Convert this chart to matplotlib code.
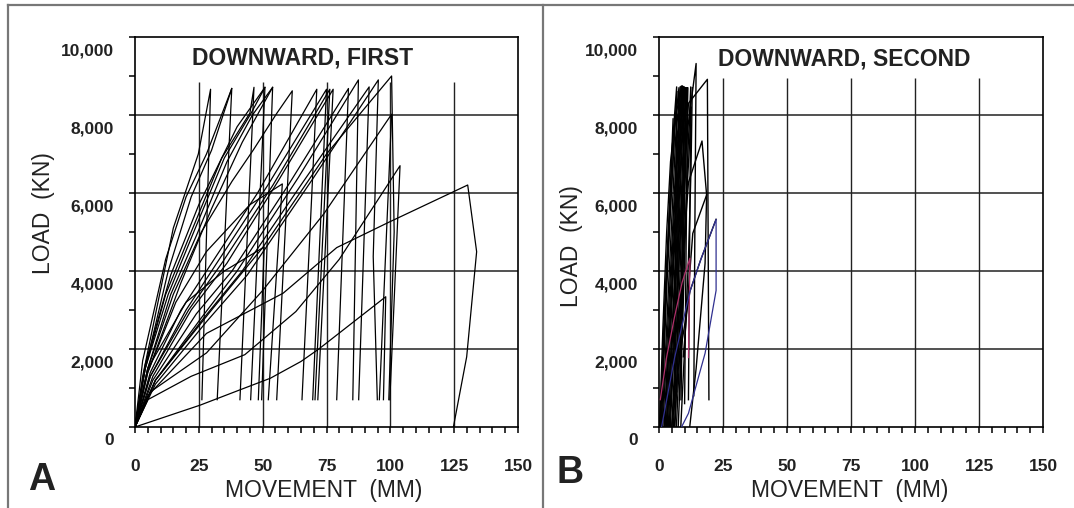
import matplotlib
matplotlib.use("Agg")
import matplotlib.pyplot as plt
from matplotlib.lines import Line2D
from matplotlib.transforms import ScaledTranslation
from matplotlib.ticker import MultipleLocator

plt.rcParams['font.family'] = ['Liberation Sans', 'DejaVu Sans']

# load-movement traces, panel A (first downward test), one list per trace
first_x = [
    [0, 3, 15, 24.8, 29.6, 26.2],
    [0, 4, 13, 22, 30, 37.9, 32.2],
    [0, 4, 12, 22, 34, 45, 46.6, 41.1],
    [0, 4, 13, 23, 35, 45.5, 50.9, 45.3],
    [0, 5, 14, 24, 36, 46, 53.9, 49.6],
    [0, 5, 16, 28, 45, 57.7, 52.2],
    [0, 5, 15, 26, 38, 46.3, 55.5, 61.6, 55.5],
    [0, 3, 12, 20, 28, 37.9],
    [0, 4, 14, 25, 40, 50.9],
    [0, 5, 18, 30, 42, 53.9],
    [0, 6, 18, 30, 48, 71.2, 65.4],
    [0, 6, 20, 32, 52, 75.0, 69.6],
    [0, 6, 21, 34, 54, 76.3, 70.5],
    [0, 7, 22, 36, 56, 77.6, 71.6],
    [0, 7, 24, 38, 60, 83.6, 79.0],
    [0, 8, 26, 40, 64, 87.5, 85.3],
    [0, 8, 27, 42, 66, 91.7, 87.6],
    [0, 8, 28, 44, 70, 95.3, 93.3, 94.9],
    [0, 6, 28, 50, 74, 100.5, 95.7],
    [0, 5, 22, 43, 63, 80, 103.8, 99.8],
    [0, 5, 28, 58, 79, 99.4, 130.3, 133.8, 129.9, 124.7],
    [0, 25.5, 41, 53, 65, 72, 98.2, 97.3],
    [0, 5, 20, 35, 50.6, 48.3],
    [0, 8, 30, 50, 75, 100.5, 101.5, 99.4],
]
first_y = [
    [0, 1300, 5100, 7000, 8660, 700],
    [0, 1500, 4000, 5900, 7100, 8680, 700],
    [0, 1500, 3400, 5000, 6900, 8050, 8710, 700],
    [0, 1500, 3400, 5000, 6900, 8050, 8710, 700],
    [0, 1500, 3400, 4900, 6800, 8000, 8710, 700],
    [0, 1400, 3200, 4500, 5700, 6233, 700],
    [0, 1500, 3400, 5000, 6300, 7100, 8040, 8620, 700],
    [0, 1700, 4300, 5900, 7000, 8680],
    [0, 1600, 3900, 5700, 7700, 8710],
    [0, 1400, 3700, 5600, 7300, 8710],
    [0, 1400, 3000, 4200, 6000, 8660, 700],
    [0, 1300, 3000, 4200, 6200, 8660, 700],
    [0, 1300, 3000, 4200, 6200, 8660, 700],
    [0, 1300, 3000, 4200, 6300, 8660, 700],
    [0, 1200, 2900, 4000, 6200, 8680, 700],
    [0, 1200, 2800, 4000, 6400, 8900, 700],
    [0, 1200, 2800, 4000, 6300, 8720, 700],
    [0, 1100, 2700, 3900, 6400, 8900, 4370, 700],
    [0, 900, 1900, 3500, 5470, 8020, 700],
    [0, 700, 1300, 1854, 2960, 4300, 6700, 700],
    [0, 800, 2400, 3430, 4600, 5250, 6205, 4495, 1800, 0],
    [0, 560, 950, 1250, 1680, 2000, 3340, 700],
    [0, 1500, 3200, 4000, 4617, 700],
    [0, 1200, 3000, 4600, 7000, 9000, 5000, 700],
]

# panel B (second downward test)
second_x = [
    [0.3, 2.5, 5.5, 6.9, 6.2],
    [0.8, 3.2, 6.0, 7.8, 7.0],
    [1.2, 3.8, 6.5, 8.3],
    [1.5, 4.2, 7.0, 8.6],
    [2.0, 4.5, 7.2, 8.9],
    [2.4, 5.0, 7.5, 9.1],
    [2.8, 5.3, 7.8, 9.3],
    [3.2, 5.8, 8.0, 9.5],
    [3.6, 6.0, 8.3, 9.7],
    [4.0, 6.4, 8.6, 9.9],
    [4.4, 6.8, 8.8, 10.1],
    [5.0, 7.3, 9.2, 10.4],
    [5.6, 7.8, 9.6, 10.6],
    [6.2, 8.3, 10.0, 10.9],
    [6.8, 8.8, 10.4, 11.2],
    [7.5, 9.4, 11.0, 12.4, 12.0, 11.5],
    [0.2, 1.5, 3.0, 4.5, 6.5, 9.0],
    [9.8, 9.0, 8.0],
    [10.6, 9.5, 8.6],
    [11.2, 10.5, 10.0],
    [3.0, 6.0, 11.3, 14.5, 14.0, 13.6],
    [4.0, 8.0, 11.5, 18.9, 19.5],
    [5.0, 9.0, 11.5, 16.8, 18.6, 13.2, 9.5],
    [22.3, 16.3, 12.1, 8.0, 5.0],
    [12.0, 14.5, 18.0, 18.6],
    [1.0, 2.0, 3.5, 5.5, 7.0],
    [0.5, 1.8, 3.0, 4.6, 5.5],
    [2.2, 4.0, 6.0, 8.2, 9.0],
    [6.0, 8.0, 9.8, 11.8, 12.6],
    [8.5, 10.0, 11.5, 12.5, 13.0],
]
second_y = [
    [0, 3500, 7500, 8720, 800],
    [0, 3800, 7600, 8700, 900],
    [0, 3700, 7400, 8720],
    [0, 3600, 7300, 8730],
    [0, 3500, 7200, 8740],
    [0, 3600, 7300, 8740],
    [0, 3500, 7200, 8730],
    [0, 3400, 7100, 8720],
    [0, 3300, 7000, 8720],
    [0, 3300, 7000, 8710],
    [0, 3200, 6900, 8700],
    [0, 3200, 6800, 8700],
    [0, 3100, 6800, 8690],
    [0, 3000, 6700, 8690],
    [0, 3000, 6700, 8680],
    [0, 3000, 6600, 8720, 5000, 700],
    [0, 2500, 5000, 6800, 8000, 8700],
    [8700, 4000, 700],
    [8700, 4500, 700],
    [8700, 4000, 600],
    [0, 3500, 7700, 9320, 5000, 800],
    [0, 4500, 8300, 8915, 700],
    [0, 4000, 6270, 7333, 5950, 4966, 1800],
    [5325, 4290, 3480, 1780, 0],
    [0, 1500, 4200, 5950],
    [0, 2400, 4600, 6800, 8600],
    [0, 2000, 4000, 6400, 7900],
    [0, 2300, 4800, 7200, 8400],
    [0, 2400, 4700, 7100, 8200],
    [0, 2000, 4300, 6600, 8700],
]
second_pink_x = [0.5, 3.0, 6.0, 9.0, 12.1, 11.5]
second_pink_y = [700, 1800, 2800, 3700, 4330, 1780]
second_blue_x = [1.0, 6.1, 12.1, 16.3, 22.3, 22.3, 18.0, 11.5, 8.8]
second_blue_y = [0, 1780, 3480, 4290, 5325, 3500, 1890, 350, 0]

yticks = [0, 2000, 4000, 6000, 8000, 10000]
ytick_labels = ['0', '2,000', '4,000', '6,000', '8,000', '10,000']
xticks = [0, 25, 50, 75, 100, 125, 150]

fig = plt.figure(figsize=(10.74, 5.08), dpi=100)
axA = fig.add_axes([135 / 1074, 81 / 508, 383 / 1074, 390 / 508])
axB = fig.add_axes([659 / 1074, 81 / 508, 384 / 1074, 390 / 508])


def setup(ax, title, tx, ty, vtop, ylab_pos, xlab_pos, letter_pos, letter):
    ax.set_xlim(0, 150)
    ax.set_ylim(0, 10000)
    for y in yticks[1:-1]:
        ax.axhline(y, color='#222222', lw=1.1, zorder=1)
    ax.vlines(xticks[1:-1], 0, vtop, color='#222222', lw=1.0, zorder=1)
    ax.set_xticks(xticks)
    ax.set_xticklabels([str(v) for v in xticks])
    ax.set_yticks(yticks)
    ax.set_yticklabels(ytick_labels)
    ax.xaxis.set_minor_locator(MultipleLocator(5))
    ax.yaxis.set_minor_locator(MultipleLocator(1000))
    ax.tick_params(which='both', direction='out', length=4, width=1.1, color='black')
    ax.tick_params(axis='x', which='major', pad=19)
    ax.tick_params(axis='y', which='major', pad=11)
    for lab in ax.get_xticklabels() + ax.get_yticklabels():
        lab.set_fontweight('bold')
        lab.set_fontsize(12.5)
        lab.set_color('#222222')
    off = ScaledTranslation(0, -12 / 100, fig.dpi_scale_trans)
    for lab in ax.get_yticklabels():
        lab.set_transform(lab.get_transform() + off)
    for sp in ax.spines.values():
        sp.set_linewidth(1.2)
    ax.text(tx, ty, title, ha='center', va='center', fontsize=16.5,
            fontweight='bold', color='#222222')
    ax.text(ylab_pos[0], ylab_pos[1], 'LOAD  (KN)', rotation=90, ha='center',
            va='center', fontsize=16.5, color='#222222', transform=ax.transAxes)
    ax.text(xlab_pos[0], xlab_pos[1], 'MOVEMENT  (MM)', ha='center', va='center',
            fontsize=16.5, color='#222222', transform=ax.transAxes)
    ax.text(letter_pos[0], letter_pos[1], letter, ha='center', va='center',
            fontsize=27, fontweight='bold', color='#222222', transform=ax.transAxes)


setup(axA, 'DOWNWARD, FIRST', 65.8, 9460, 8850, (-0.238, 0.549), (0.493, -0.162),
      (-0.245, -0.135), 'A')
setup(axB, 'DOWNWARD, SECOND', 72.3, 9440, 8950, (-0.229, 0.464), (0.497, -0.162),
      (-0.232, -0.118), 'B')

for xs, ys in zip(first_x, first_y):
    axA.plot(xs, ys, color='black', lw=0.9, zorder=3)

for xs, ys in zip(second_x, second_y):
    axB.plot(xs, ys, color='black', lw=1.0, zorder=3)
axB.plot(second_pink_x, second_pink_y, color='#b0306a', lw=0.9, zorder=4)
axB.plot(second_blue_x, second_blue_y, color='#303090', lw=0.9, zorder=4)

# outer frame and divider
frame = dict(color='#777777', lw=1.6, transform=fig.transFigure)
fig.add_artist(Line2D([8 / 1074, 1], [1 - 5 / 508, 1 - 5 / 508], **frame))
fig.add_artist(Line2D([8 / 1074, 8 / 1074], [0, 1 - 5 / 508], **frame))
fig.add_artist(Line2D([543 / 1074, 543 / 1074], [0, 1 - 5 / 508], **frame))

fig.savefig('out.png', dpi=100)
